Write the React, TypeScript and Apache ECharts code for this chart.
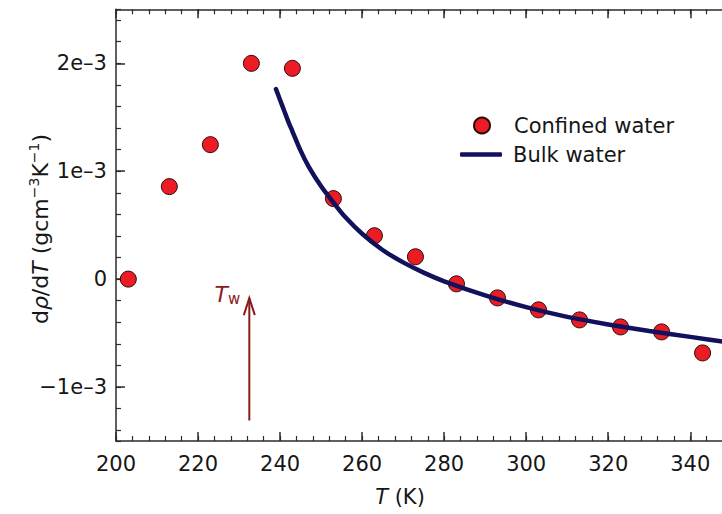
import React, { useEffect, useRef } from 'react';
import * as echarts from 'echarts';

// Confined water: temperature (K) and dρ/dT (g cm^-3 K^-1)
const confinedT = [203, 213, 223, 233, 243, 253, 263, 273, 283, 293, 303, 313, 323, 333, 343];
const confinedRate = [
  0.0e-3, 0.857e-3, 1.246e-3, 1.999e-3, 1.953e-3, 0.746e-3, 0.402e-3, 0.207e-3,
  -0.044e-3, -0.174e-3, -0.285e-3, -0.378e-3, -0.443e-3, -0.489e-3, -0.684e-3,
];

// Bulk water curve
const bulkT = [239, 240, 241, 242, 243, 245, 247, 250, 253, 256, 260, 265, 270, 275, 280, 290, 300, 310, 320, 330, 340, 350];
const bulkRate = [
  1.76e-3, 1.66e-3, 1.56e-3, 1.46e-3, 1.37e-3, 1.19e-3, 1.04e-3, 0.86e-3, 0.71e-3, 0.57e-3,
  0.42e-3, 0.27e-3, 0.155e-3, 0.06e-3, -0.02e-3, -0.15e-3, -0.26e-3, -0.35e-3, -0.42e-3,
  -0.48e-3, -0.535e-3, -0.59e-3,
];

// T_w marker: temperature, arrow bottom, arrow tip
const twMarker = [232.5, -1.31e-3, -0.176e-3];

const xTickLabels = ['200', '220', '240', '260', '280', '300', '320', '340'];

const FONT = 'DejaVu Sans';
const AX = '#2b2b2b';
const TXT = '#161616';
const TW = '#8b1a1a';
const RED = '#ec1c24';
const NAVY = '#11115c';

function yFmt(v: number) {
  const k = Math.round(v * 1000);
  if (k === 0) return '0';
  return (k < 0 ? '\u2212' : '') + Math.abs(k) + 'e\u20133';
}

function makeX(pos: 'top' | 'bottom', major: boolean) {
  return {
    type: 'value',
    position: pos,
    min: 200,
    max: 350,
    interval: major ? 20 : 4,
    axisLine: { show: major, onZero: false, lineStyle: { color: AX, width: 1.5 } },
    axisTick: { show: true, inside: true, length: major ? 9 : 5, lineStyle: { color: AX, width: major ? 1.5 : 1.2 } },
    axisLabel: {
      show: major && pos === 'bottom',
      margin: 12,
      fontSize: 21,
      fontFamily: FONT,
      color: TXT,
      showMaxLabel: false,
      formatter: (v: number) => (xTickLabels.includes(String(v)) ? String(v) : ''),
    },
    splitLine: { show: false },
    minorTick: { show: false },
  };
}

function makeY(pos: 'left' | 'right', major: boolean) {
  return {
    type: 'value',
    position: pos,
    min: -1.5e-3,
    max: 2.5e-3,
    splitNumber: major ? 4 : 20,
    minInterval: major ? 1e-3 : 0.2e-3,
    maxInterval: major ? 1e-3 : 0.2e-3,
    axisLine: { show: major, onZero: false, lineStyle: { color: AX, width: 1.5 } },
    axisTick: { show: true, inside: true, length: major ? 9 : 5, lineStyle: { color: AX, width: major ? 1.5 : 1.2 } },
    axisLabel: {
      show: major && pos === 'left',
      margin: 9,
      fontSize: 21,
      fontFamily: FONT,
      color: TXT,
      showMinLabel: false,
      showMaxLabel: false,
      formatter: yFmt,
    },
    splitLine: { show: false },
  };
}

export default function App() {
  const ref = useRef<HTMLDivElement>(null);
  useEffect(() => {
    if (!ref.current) return;
    const chart = echarts.init(ref.current, null, { renderer: 'svg' });
    const legendBase = {
      orient: 'vertical',
      itemWidth: 42,
      padding: 5,
      textStyle: { fontFamily: FONT, fontSize: 21, color: TXT, padding: [0, 0, 0, 6] },
    };
    const option: any = {
      animation: false,
      backgroundColor: '#ffffff',
      grid: { left: 116, right: 13.7, top: 9.3, bottom: 73, containLabel: false },
      xAxis: [makeX('bottom', true), makeX('bottom', false), makeX('top', true), makeX('top', false)],
      yAxis: [makeY('left', true), makeY('left', false), makeY('right', true), makeY('right', false)],
      legend: [
        {
          ...legendBase,
          left: 468,
          top: 110,
          itemHeight: 16,
          data: [{ name: 'Confined water', icon: 'circle' }],
        },
        {
          ...legendBase,
          left: 455,
          top: 139,
          itemHeight: 4.5,
          data: [{ name: 'Bulk water', icon: 'roundRect' }],
        },
      ],
      graphic: [
        {
          type: 'text',
          x: 400,
          y: 497,
          style: {
            text: '{i|T}{n| (K)}',
            align: 'center',
            verticalAlign: 'middle',
            rich: {
              i: { fontStyle: 'italic', fontFamily: FONT, fontSize: 21, fill: TXT },
              n: { fontFamily: FONT, fontSize: 21, fill: TXT },
            },
          },
        },
        {
          type: 'text',
          x: 40,
          y: 229,
          rotation: Math.PI / 2,
          style: {
            text: '{n|d}{i|ρ}{n|/d}{i|T}{n| (gcm}{s|\u22123}{n|K}{s|\u22121}{n|)}',
            align: 'center',
            verticalAlign: 'middle',
            rich: {
              n: { fontFamily: FONT, fontSize: 22, fill: TXT, lineHeight: 26 },
              i: { fontFamily: FONT, fontSize: 22, fontStyle: 'italic', fill: TXT, lineHeight: 26 },
              s: { fontFamily: FONT, fontSize: 14, fill: TXT, verticalAlign: 'top', lineHeight: 14 },
            },
          },
        },
      ],
      series: [
        {
          name: 'Confined water',
          type: 'scatter',
          xAxisIndex: 0,
          yAxisIndex: 0,
          data: confinedT.map((t, i) => [t, confinedRate[i]]),
          symbol: 'circle',
          symbolSize: 16,
          itemStyle: { color: RED, borderColor: '#2a0808', borderWidth: 1, opacity: 1 },
          z: 2,
        },
        {
          name: 'Bulk water',
          type: 'line',
          xAxisIndex: 0,
          yAxisIndex: 0,
          data: bulkT.map((t, i) => [t, bulkRate[i]]),
          showSymbol: false,
          symbol: 'none',
          smooth: 0.3,
          lineStyle: { color: NAVY, width: 4.5, cap: 'round' },
          itemStyle: { color: NAVY },
          z: 3,
        },
        {
          type: 'custom',
          xAxisIndex: 0,
          yAxisIndex: 0,
          silent: true,
          z: 4,
          data: [twMarker],
          renderItem: (params: any, api: any) => {
            const x = api.value(0);
            const p0 = api.coord([x, api.value(1)]);
            const p1 = api.coord([x, api.value(2)]);
            return {
              type: 'group',
              children: [
                {
                  type: 'line',
                  shape: { x1: p0[0], y1: p0[1], x2: p1[0], y2: p1[1] },
                  style: { stroke: TW, lineWidth: 2 },
                },
                {
                  type: 'polyline',
                  shape: { points: [[p1[0] - 5.5, p1[1] + 17], [p1[0], p1[1]], [p1[0] + 5.5, p1[1] + 17]] },
                  style: { stroke: TW, lineWidth: 2, fill: 'none' },
                },
                {
                  type: 'text',
                  x: p1[0] - 9,
                  y: p1[1] - 4,
                  style: {
                    text: '{t|T}{s|w}',
                    align: 'right',
                    verticalAlign: 'middle',
                    rich: {
                      t: { fontFamily: FONT, fontSize: 22, fontStyle: 'italic', fill: TW, lineHeight: 24 },
                      s: { fontFamily: FONT, fontSize: 15, fill: TW, verticalAlign: 'bottom', lineHeight: 15 },
                    },
                  },
                },
              ],
            };
          },
        },
      ],
    };
    chart.setOption(option);
    return () => chart.dispose();
  }, []);
  return <div ref={ref} style={{ position: 'fixed', left: 0, top: 0, width: 745, height: 514 }} />;
}
